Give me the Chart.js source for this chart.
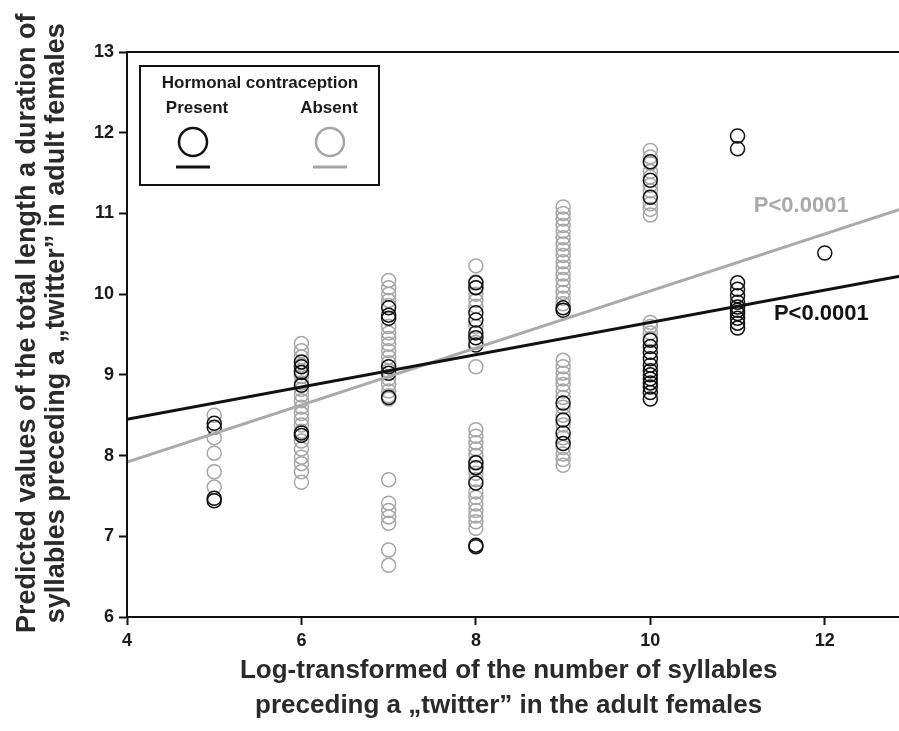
<!DOCTYPE html>
<html>
<head>
<meta charset="utf-8">
<script src="https://cdn.jsdelivr.net/npm/chart.js@4.4.1/dist/chart.umd.min.js"></script>
<style>
  html, body { margin: 0; padding: 0; background: #fff; overflow: hidden; }
  #wrap { position: relative; width: 930px; height: 731px; }
</style>
</head>
<body>
<div id="wrap"><canvas id="myChart" width="930" height="731"></canvas></div>
<script>
// x positions of the point columns
const columns = [5, 6, 7, 8, 9, 10, 11, 12];

// Hormonal contraception absent (grey circles), one list per column
const absentValues = [
    [8.5, 8.22, 8.03, 7.8, 7.61],
    [9.39, 9.3, 9.22, 9.12, 9.05, 8.98, 8.9, 8.82, 8.75, 8.68, 8.6, 8.52, 8.45, 8.38, 8.3, 8.18, 8.08, 7.98, 7.9, 7.8, 7.67],
    [10.17, 10.08, 10.0, 9.92, 9.86, 9.6, 9.52, 9.45, 9.38, 9.3, 9.22, 9.15, 9.05, 8.95, 8.88, 8.8, 8.74, 8.7, 7.7, 7.41, 7.32, 7.24, 7.16, 6.83, 6.64],
    [10.35, 10.15, 10.08, 10.0, 9.92, 9.85, 9.6, 9.4, 9.1, 8.32, 8.24, 8.16, 8.08, 8.0, 7.92, 7.78, 7.7, 7.55, 7.48, 7.4, 7.32, 7.25, 7.18, 7.1],
    [11.08, 11.0, 10.93, 10.85, 10.78, 10.7, 10.62, 10.55, 10.48, 10.4, 10.33, 10.25, 10.18, 10.1, 10.02, 9.95, 9.88, 9.18, 9.1, 9.02, 8.95, 8.88, 8.8, 8.72, 8.6, 8.5, 8.38, 8.22, 8.1, 8.02, 7.95, 7.88],
    [11.78, 11.7, 11.62, 11.52, 11.45, 11.35, 11.28, 11.2, 11.12, 11.05, 10.98, 9.65, 9.6, 9.52, 9.45],
    [],
    []
];

// Hormonal contraception present (black circles)
const presentValues = [
    [8.4, 8.35, 7.47, 7.44],
    [9.16, 9.1, 9.03, 8.87, 8.28, 8.25],
    [9.83, 9.74, 9.7, 9.1, 9.02, 8.72],
    [10.14, 10.08, 9.77, 9.68, 9.52, 9.46, 9.37, 7.91, 7.85, 7.66, 6.89, 6.87],
    [9.83, 9.8, 8.65, 8.44, 8.28, 8.15],
    [11.64, 11.41, 11.2, 9.43, 9.35, 9.28, 9.2, 9.12, 9.05, 9.0, 8.95, 8.9, 8.85, 8.78, 8.7],
    [11.96, 11.8, 10.14, 10.06, 9.98, 9.9, 9.84, 9.8, 9.76, 9.7, 9.64, 9.58],
    [10.51]
];

// regression lines (ends at x = 4 and x = 13)
const fitX = [4, 13];
const absentFitY = [7.92, 11.1];
const presentFitY = [8.45, 10.25];

const xTicks = [4, 6, 8, 10, 12];
const yTicks = [6, 7, 8, 9, 10, 11, 12, 13];

const pLabels = [
    { text: 'P<0.0001', x: 11.73, y: 11.09, color: '#a9a9a9' },
    { text: 'P<0.0001', x: 11.96, y: 9.75, color: '#111111' }
];

const FONT = '"Liberation Sans", Arial, sans-serif';
const BLACK = '#111111';
const GREY = '#a6a6a6';
const PAD = '\u00a0\u00a0\u00a0'; // nudges centred axis titles off-centre like the original

function toPoints(values) {
    return columns.flatMap((x, i) => values[i].map(y => ({ x: x, y: y })));
}

// frame, legend box and p-value labels
const decorPlugin = {
    id: 'decor',
    afterDraw(chart) {
        const ctx = chart.ctx;
        const a = chart.chartArea;
        const xs = chart.scales.x, ys = chart.scales.y;
        ctx.save();

        // plot frame
        ctx.strokeStyle = BLACK;
        ctx.lineWidth = 2;
        ctx.strokeRect(a.left, a.top, a.right - a.left, a.bottom - a.top);

        // legend
        ctx.lineWidth = 2;
        ctx.strokeStyle = BLACK;
        ctx.strokeRect(140, 66, 239, 119);
        ctx.fillStyle = '#1a1a1a';
        ctx.font = 'bold 17px ' + FONT;
        ctx.textAlign = 'center';
        ctx.textBaseline = 'middle';
        ctx.fillText('Hormonal contraception', 260, 83);
        ctx.fillText('Present', 197, 108);
        ctx.fillText('Absent', 329, 108);

        [[193, BLACK], [330, GREY]].forEach(([cx, col]) => {
            ctx.strokeStyle = col;
            ctx.lineWidth = 2.5;
            ctx.beginPath();
            ctx.arc(cx, 142, 14, 0, Math.PI * 2);
            ctx.stroke();
            ctx.lineWidth = 3;
            ctx.beginPath();
            ctx.moveTo(cx - 17, 167);
            ctx.lineTo(cx + 17, 167);
            ctx.stroke();
        });

        // p-values
        ctx.font = 'bold 22px ' + FONT;
        pLabels.forEach(p => {
            ctx.fillStyle = p.color;
            ctx.fillText(p.text, xs.getPixelForValue(p.x), ys.getPixelForValue(p.y));
        });
        ctx.restore();
    }
};

const ctx = document.getElementById('myChart').getContext('2d');
new Chart(ctx, {
    type: 'scatter',
    data: {
        datasets: [
            {
                label: 'Present fit',
                type: 'line',
                data: fitX.map((x, i) => ({ x: x, y: presentFitY[i] })),
                borderColor: BLACK,
                borderWidth: 3,
                pointRadius: 0,
                fill: false,
                order: 0
            },
            {
                label: 'Absent fit',
                type: 'line',
                data: fitX.map((x, i) => ({ x: x, y: absentFitY[i] })),
                borderColor: '#aaaaaa',
                borderWidth: 3,
                pointRadius: 0,
                fill: false,
                order: 1
            },
            {
                label: 'Present',
                data: toPoints(presentValues),
                pointRadius: 7,
                pointBorderWidth: 1.5,
                pointBorderColor: BLACK,
                pointBackgroundColor: 'rgba(0,0,0,0)',
                order: 2
            },
            {
                label: 'Absent',
                data: toPoints(absentValues),
                pointRadius: 7,
                pointBorderWidth: 1.5,
                pointBorderColor: GREY,
                pointBackgroundColor: 'rgba(0,0,0,0)',
                order: 3
            }
        ]
    },
    options: {
        responsive: false,
        animation: false,
        devicePixelRatio: 1,
        layout: { padding: { left: 0, top: 52, right: 18, bottom: 0 } },
        plugins: {
            legend: { display: false },
            tooltip: { enabled: false }
        },
        scales: {
            x: {
                type: 'linear',
                min: 4,
                max: 13,
                afterBuildTicks: axis => { axis.ticks = xTicks.map(v => ({ value: v })); },
                afterFit: axis => { axis.height = 114; },
                grid: { drawOnChartArea: false, tickLength: 8, tickWidth: 2, tickColor: BLACK },
                border: { display: true, color: BLACK, width: 2 },
                ticks: { color: '#1a1a1a', padding: 5, font: { family: FONT, size: 18, weight: 'bold' } },
                title: {
                    display: true,
                    text: ['Log-transformed of the number of syllables' + PAD, 'preceding a \u201etwitter\u201d in the adult females' + PAD],
                    color: '#2a2a2a',
                    font: { family: FONT, size: 26, weight: 'bold', lineHeight: 1.35 },
                    padding: { top: 0, bottom: 8 }
                }
            },
            y: {
                type: 'linear',
                min: 6,
                max: 13,
                afterBuildTicks: axis => { axis.ticks = yTicks.map(v => ({ value: v })); },
                afterFit: axis => { axis.width = 127; },
                grid: { drawOnChartArea: false, tickLength: 8, tickWidth: 2, tickColor: BLACK },
                border: { display: true, color: BLACK, width: 2 },
                ticks: { color: '#1a1a1a', padding: 5, font: { family: FONT, size: 18, weight: 'bold' } },
                title: {
                    display: true,
                    text: [PAD + 'Predicted values of the total length a duration of', PAD + 'syllables preceding a \u201etwitter\u201d in adult females'],
                    color: '#2a2a2a',
                    font: { family: FONT, size: 27, weight: 'bold', lineHeight: 1.04 },
                    padding: { top: 14, bottom: 0 }
                }
            }
        }
    },
    plugins: [decorPlugin]
});
</script>
</body>
</html>
